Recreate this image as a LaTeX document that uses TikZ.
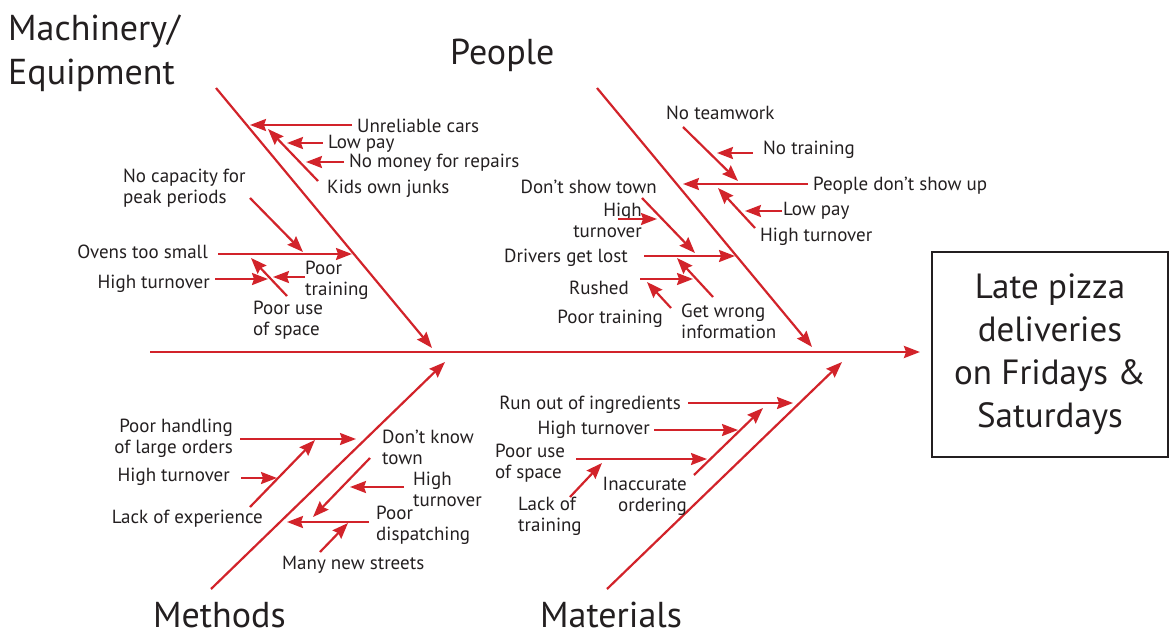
\documentclass[tikz,border=0pt]{standalone}
\usepackage{fontspec}
\setmainfont{PT Sans}
\usepackage{xcolor}
\usetikzlibrary{arrows.meta}
\definecolor{fishred}{HTML}{D2232A}
\definecolor{ink}{HTML}{231F20}

\begin{document}
\begin{tikzpicture}[x=1pt, y=-1pt, >={Stealth[length=16pt,width=12pt,inset=2pt]}]
        \tikzset{
            bone/.style={draw=fishred, line width=2.2pt, ->},
            cause/.style={font=\fontsize{19}{21}\selectfont, text=ink, inner sep=0pt, align=left},
            causer/.style={cause, align=right},
            category/.style={font=\fontsize{36}{44}\selectfont, text=ink, inner sep=0pt},
            effect/.style={draw=ink, line width=2.5pt, minimum width=236pt, minimum height=205pt, align=center, text=ink, font=\fontsize{35}{43}\selectfont}
        }
        \useasboundingbox (0,0) rectangle (1171,635);

        % Effect and spine
        \node [effect] (late) at (1050,354.5) {Late pizza\\deliveries\\on Fridays \&\\Saturdays};
        \coordinate (spine-s) at (150,352);
        \coordinate (spine-t) at (920,352);
        \draw [bone, line width=2.6pt] (spine-s) -- (spine-t);

        % Machinery / Equipment
        \node [category, align=left, anchor=base west] (machinery) at (8,84) {Machinery/\\Equipment};
        \coordinate (mach-s) at (216,88);
        \coordinate (mach-t) at (432,348);
        \draw [bone] (mach-s) -- (mach-t);
        \node [cause, anchor=west] (unreliable) at (357,126) {Unreliable cars};
        \node [cause, anchor=west] (lowpayA) at (328,144) {Low pay};
        \node [cause, anchor=west] (nomoney) at (349,163) {No money for repairs};
        \node [cause, anchor=west] (kids) at (327,189) {Kids own junks};
        \node [cause, anchor=west] (nocapacity) at (123,188.5) {No capacity for\\peak periods};
        \node [cause, anchor=east] (ovens) at (208,252) {Ovens too small};
        \node [cause, anchor=east] (turnoverA) at (210,284) {High turnover};
        \node [cause, anchor=west] (trainingA) at (305,280) {Poor\\training};
        \node [cause, anchor=west] (spaceA) at (253,320) {Poor use\\of space};
        \coordinate (unreliable-s) at (352,125);  \coordinate (unreliable-t) at (250,125);
        \coordinate (kids-s) at (318,181);        \coordinate (kids-t) at (268,129);
        \coordinate (lowpayA-s) at (323,143);     \coordinate (lowpayA-t) at (287,143);
        \coordinate (nomoney-s) at (344,162);     \coordinate (nomoney-t) at (306,162);
        \coordinate (nocapacity-s) at (250,198);  \coordinate (nocapacity-t) at (303,252);
        \coordinate (ovens-s) at (218,254);       \coordinate (ovens-t) at (352,254);
        \coordinate (spaceA-s) at (287,296);      \coordinate (spaceA-t) at (251,258);
        \coordinate (turnoverA-s) at (215,279);   \coordinate (turnoverA-t) at (268,279);
        \coordinate (trainingA-s) at (305,277);   \coordinate (trainingA-t) at (273,277);
        \draw [bone] (unreliable-s) -- (unreliable-t);
        \draw [bone] (kids-s) -- (kids-t);
        \draw [bone] (lowpayA-s) -- (lowpayA-t);
        \draw [bone] (nomoney-s) -- (nomoney-t);
        \draw [bone] (nocapacity-s) -- (nocapacity-t);
        \draw [bone] (ovens-s) -- (ovens-t);
        \draw [bone] (spaceA-s) -- (spaceA-t);
        \draw [bone] (turnoverA-s) -- (turnoverA-t);
        \draw [bone] (trainingA-s) -- (trainingA-t);

        % People
        \node [category, anchor=base west] (people) at (450,64) {People};
        \coordinate (ppl-s) at (597,88);
        \coordinate (ppl-t) at (812,347);
        \draw [bone] (ppl-s) -- (ppl-t);
        \node [cause, anchor=west] (teamwork) at (666,113) {No teamwork};
        \node [cause, anchor=west] (notraining) at (763,150) {No training};
        \node [cause, anchor=west] (noshow) at (813,186) {People don’t show up};
        \node [cause, anchor=west] (lowpayB) at (783,211) {Low pay};
        \node [cause, anchor=west] (turnoverB) at (760,237) {High turnover};
        \node [cause, anchor=east] (showtown) at (657,187) {Don’t show town};
        \node [causer, anchor=east] (turnoverC) at (642,220) {High\\turnover};
        \node [cause, anchor=east] (lost) at (628,258) {Drivers get lost};
        \node [cause, anchor=east] (rushed) at (629,288) {Rushed};
        \node [cause, anchor=west] (wronginfo) at (681,321) {Get wrong\\information};
        \node [cause, anchor=east] (trainingB) at (663,319) {Poor training};
        \coordinate (teamwork-s) at (683,127);    \coordinate (teamwork-t) at (738,181);
        \coordinate (notraining-s) at (753,153);  \coordinate (notraining-t) at (717,153);
        \coordinate (noshow-s) at (808,184);      \coordinate (noshow-t) at (683,184);
        \coordinate (lowpayB-s) at (782,211);     \coordinate (lowpayB-t) at (745,211);
        \coordinate (turnoverB-s) at (755,228);   \coordinate (turnoverB-t) at (718,188);
        \coordinate (showtown-s) at (642,198);    \coordinate (showtown-t) at (695,253);
        \coordinate (turnoverC-s) at (618,219);   \coordinate (turnoverC-t) at (657,219);
        \coordinate (lost-s) at (644,256);        \coordinate (lost-t) at (735,256);
        \coordinate (rushed-s) at (640,279);      \coordinate (rushed-t) at (693,279);
        \coordinate (wronginfo-s) at (713,297);   \coordinate (wronginfo-t) at (677,258);
        \coordinate (trainingB-s) at (671,308);   \coordinate (trainingB-t) at (647,282);
        \draw [bone] (teamwork-s) -- (teamwork-t);
        \draw [bone] (notraining-s) -- (notraining-t);
        \draw [bone] (noshow-s) -- (noshow-t);
        \draw [bone] (lowpayB-s) -- (lowpayB-t);
        \draw [bone] (turnoverB-s) -- (turnoverB-t);
        \draw [bone] (showtown-s) -- (showtown-t);
        \draw [bone] (turnoverC-s) -- (turnoverC-t);
        \draw [bone] (lost-s) -- (lost-t);
        \draw [bone] (rushed-s) -- (rushed-t);
        \draw [bone] (wronginfo-s) -- (wronginfo-t);
        \draw [bone] (trainingB-s) -- (trainingB-t);

        % Methods
        \node [category, anchor=base west] (methods) at (153,627) {Methods};
        \coordinate (meth-s) at (211,589);
        \coordinate (meth-t) at (445,362);
        \draw [bone] (meth-s) -- (meth-t);
        \node [causer, anchor=east] (handling) at (233,438) {Poor handling\\of large orders};
        \node [cause, anchor=east] (turnoverD) at (230,477) {High turnover};
        \node [cause, anchor=east] (experience) at (263,519) {Lack of experience};
        \node [cause, anchor=west] (knowtown) at (382,447) {Don’t know\\town};
        \node [cause, anchor=west] (turnoverE) at (413,489) {High\\turnover};
        \node [cause, anchor=west] (dispatching) at (376,525.5) {Poor\\dispatching};
        \node [cause, anchor=west] (streets) at (282,565) {Many new streets};
        \coordinate (handling-s) at (240,439);    \coordinate (handling-t) at (356,439);
        \coordinate (experience-s) at (250,507);  \coordinate (experience-t) at (315,440);
        \coordinate (turnoverD-s) at (241,478);   \coordinate (turnoverD-t) at (277,478);
        \coordinate (knowtown-s) at (370,458);    \coordinate (knowtown-t) at (313,517);
        \coordinate (turnoverE-s) at (404,487);   \coordinate (turnoverE-t) at (350,487);
        \coordinate (dispatching-s) at (369,522); \coordinate (dispatching-t) at (287,522);
        \coordinate (streets-s) at (320,552);     \coordinate (streets-t) at (348,523);
        \draw [bone] (handling-s) -- (handling-t);
        \draw [bone] (experience-s) -- (experience-t);
        \draw [bone] (turnoverD-s) -- (turnoverD-t);
        \draw [bone] (knowtown-s) -- (knowtown-t);
        \draw [bone] (turnoverE-s) -- (turnoverE-t);
        \draw [bone] (dispatching-s) -- (dispatching-t);
        \draw [bone] (streets-s) -- (streets-t);

        % Materials
        \node [category, anchor=base west] (materials) at (540,627) {Materials};
        \coordinate (mat-s) at (607,589);
        \coordinate (mat-t) at (842,362);
        \draw [bone] (mat-s) -- (mat-t);
        \node [cause, anchor=east] (ingredients) at (681,405) {Run out of ingredients};
        \node [cause, anchor=east] (turnoverF) at (650,430) {High turnover};
        \node [cause, anchor=west] (spaceB) at (495,463) {Poor use\\of space};
        \node [cause, anchor=west] (trainingC) at (518,516) {Lack of\\training};
        \node [causer, anchor=east] (ordering) at (687,496) {Inaccurate\\ordering};
        \coordinate (ingredients-s) at (688,403); \coordinate (ingredients-t) at (793,403);
        \coordinate (ordering-s) at (694,475);    \coordinate (ordering-t) at (763,408);
        \coordinate (turnoverF-s) at (654,430);   \coordinate (turnoverF-t) at (738,430);
        \coordinate (spaceB-s) at (576,459);      \coordinate (spaceB-t) at (707,459);
        \coordinate (trainingC-s) at (570,497);   \coordinate (trainingC-t) at (602,463);
        \draw [bone] (ingredients-s) -- (ingredients-t);
        \draw [bone] (ordering-s) -- (ordering-t);
        \draw [bone] (turnoverF-s) -- (turnoverF-t);
        \draw [bone] (spaceB-s) -- (spaceB-t);
        \draw [bone] (trainingC-s) -- (trainingC-t);
\end{tikzpicture}
\end{document}
